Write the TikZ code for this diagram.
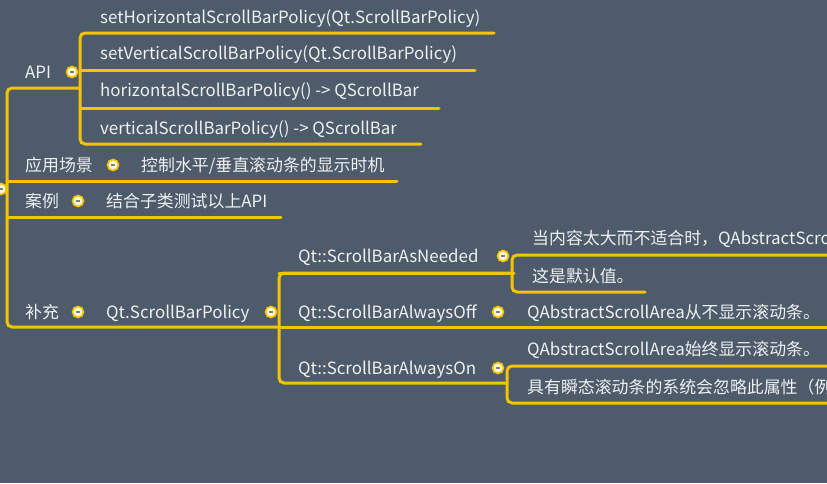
\documentclass[tikz,border=0pt]{standalone}
\usepackage{fontspec}
\setmainfont{Noto Sans CJK SC}
\definecolor{bg}{HTML}{4D5B6A}
\definecolor{yl}{HTML}{F5C400}
\definecolor{tx}{HTML}{EEF0F2}
\definecolor{dotfill}{HTML}{FFF8D8}
\tikzset{
  lbl/.style={anchor=west,inner sep=0pt,text=tx,font=\fontsize{16.9}{19}\selectfont,text height=13pt,text depth=1pt},
  link/.style={draw=yl,line width=3pt,rounded corners=5pt,line cap=round},
  dotnode/.style={circle,draw=yl,fill=dotfill,line width=1.7pt,inner sep=0pt,minimum size=11pt,
    path picture={\draw[gray,line width=1.4pt] ([xshift=-2.4pt]path picture bounding box.center) -- ([xshift=2.4pt]path picture bounding box.center);}}
}
\begin{document}
\begin{tikzpicture}[x=1pt,y=-1pt]
\fill[bg] (0,0) rectangle (827,483);
\useasboundingbox (0,0) rectangle (827,483);
\clip (0,0) rectangle (827,483);

% ---- coordinates for connectors
\coordinate (trT) at (7,88);
\coordinate (trB) at (7,327);

% ---- API branch
\node[lbl] (api) at (25,72) {API};
\node[dotnode] (apid) at (72,72) {};
\coordinate (apiE) at (80,88);
\node[lbl] (k1) at (100,17) {setHorizontalScrollBarPolicy(Qt.ScrollBarPolicy)};
\node[lbl] (k2) at (100,53) {setVerticalScrollBarPolicy(Qt.ScrollBarPolicy)};
\node[lbl] (k3) at (100,90) {horizontalScrollBarPolicy() -> QScrollBar};
\node[lbl] (k4) at (100,128) {verticalScrollBarPolicy() -> QScrollBar};
\coordinate (k1e) at (494,33);
\coordinate (k2e) at (475,70);
\coordinate (k3e) at (439,108);
\coordinate (k4e) at (421,144);

% trunk
\draw[link] (apiE) -- (trT) -- (trB) -- (279,327);
\draw[link] (k1e) -- (80,33) -- (80,144) -- (k4e);
\draw[link] (80,70) -- (k2e);
\draw[link] (80,108) -- (k3e);

% ---- 应用场景
\node[lbl] (yy) at (25,165) {应用场景};
\node[dotnode] (yyd) at (113,165) {};
\node[lbl] (yyc) at (141,165) {控制水平/垂直滚动条的显示时机};
\coordinate (yye) at (397,181);
\draw[link] (7,181) -- (yye);

% ---- 案例
\node[lbl] (al) at (25,201) {案例};
\node[dotnode] (ald) at (78,201) {};
\node[lbl] (alc) at (106,201) {结合子类测试以上API};
\coordinate (ale) at (281,217);
\draw[link] (7,217) -- (ale);

% root dot (partly off the page)
\node[dotnode] (root) at (1,189) {};

% ---- 补充
\node[lbl] (bc) at (25,312) {补充};
\node[dotnode] (bcd) at (78,312) {};
\node[lbl] (pol) at (106,312) {Qt.ScrollBarPolicy};
\node[dotnode] (pold) at (271,312) {};

\draw[link] (512,273) -- (279,273) -- (279,383) -- (507,383);

% AsNeeded
\node[lbl] (an) at (298,256) {Qt::ScrollBarAsNeeded};
\node[lbl] (an1) at (532,238) {当内容太大而不适合时，QAbstractScrollArea};
\node[lbl] (an2) at (532,276) {这是默认值。};
\draw[link] (840,255) -- (512,255) -- (512,292) -- (645,292);
\draw[link] (279,273) -- (514,273);
\node[dotnode] (and) at (503,256) {};

% AlwaysOff
\node[lbl] (off) at (298,312) {Qt::ScrollBarAlwaysOff};
\node[lbl] (off1) at (527,312) {QAbstractScrollArea从不显示滚动条。};
\draw[link] (279,327) -- (840,327);
\node[dotnode] (offd) at (498,312) {};

% AlwaysOn
\node[lbl] (on) at (298,368) {Qt::ScrollBarAlwaysOn};
\node[lbl] (on1) at (527,349) {QAbstractScrollArea始终显示滚动条。};
\node[lbl] (on2) at (527,387) {具有瞬态滚动条的系统会忽略此属性（例如};
\draw[link] (840,366) -- (507,366) -- (507,403) -- (840,403);
\node[dotnode] (ond) at (498,368) {};
\end{tikzpicture}
\end{document}
